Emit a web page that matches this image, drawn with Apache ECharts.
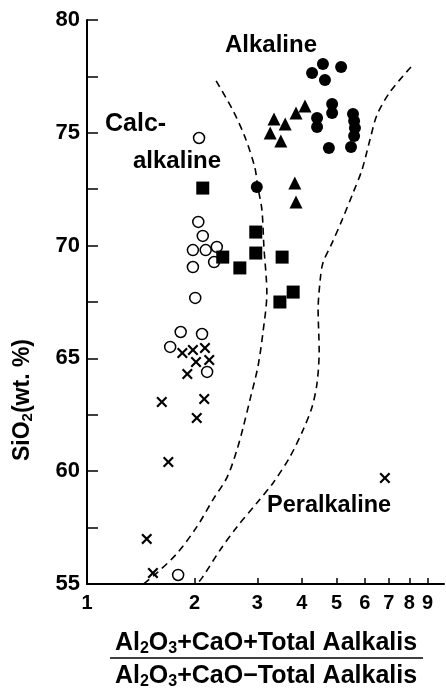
<!DOCTYPE html>
<html>
<head>
<meta charset="utf-8">
<script src="https://cdn.jsdelivr.net/npm/echarts@6/dist/echarts.min.js"></script>
<style>
  html, body { margin: 0; padding: 0; background: #fff; }
  #chart { width: 446px; height: 693px; }
</style>
</head>
<body>
<div id="chart"></div>
<script>
// Alumina-saturation index (log scale) vs SiO2 (wt. %)
const xLabelValues = [1, 2, 3, 4, 5, 6, 7, 8, 9];
const xTickValues = [2, 3, 4, 5, 6, 7, 8, 9];
const yTickValues = [55, 57.5, 60, 62.5, 65, 67.5, 70, 72.5, 75, 77.5, 80];

const openCircles = [
  [2.06, 74.77], [2.05, 71.05], [2.11, 70.43], [1.98, 69.80], [2.15, 69.80],
  [2.31, 69.94], [2.27, 69.27], [1.98, 69.05], [2.01, 67.68], [1.83, 66.17],
  [2.10, 66.08], [1.71, 65.51], [2.17, 64.40], [1.80, 55.40]
];
const crosses = [
  [1.85, 65.24], [1.98, 65.37], [2.14, 65.46], [2.02, 64.84], [2.20, 64.93],
  [1.91, 64.31], [1.62, 63.07], [2.13, 63.20], [2.03, 62.36], [1.69, 60.41],
  [1.47, 57.00], [1.53, 55.49], [6.83, 59.70]
];
const squares = [
  [2.11, 72.55], [2.97, 70.60], [2.97, 69.67], [2.40, 69.49], [2.68, 69.01],
  [3.52, 69.49], [3.78, 67.94], [3.47, 67.50]
];
const triangles = [
  [4.08, 76.19], [3.85, 75.88], [3.34, 75.61], [3.59, 75.39], [3.26, 74.99],
  [3.49, 74.64], [3.82, 72.77], [3.85, 71.93]
];
const filledCircles = [
  [4.58, 78.05], [5.15, 77.92], [4.27, 77.65], [4.64, 77.34], [4.86, 76.28],
  [4.86, 75.88], [4.41, 75.66], [4.41, 75.26], [5.56, 75.83], [5.60, 75.52],
  [5.63, 75.21], [5.60, 74.86], [5.49, 74.37], [4.76, 74.33], [2.99, 72.60]
];

// Field boundaries (dashed)
const calcAlkalineBoundary = [
  [2.30, 77.30], [2.56, 76.01], [2.77, 74.81], [2.95, 73.48], [3.01, 72.60],
  [3.09, 71.58], [3.13, 69.94], [3.19, 67.90], [3.11, 66.13], [3.01, 64.62],
  [2.86, 63.16], [2.74, 61.96], [2.63, 60.94], [2.47, 59.74], [2.25, 58.72],
  [2.03, 57.53], [1.79, 56.37], [1.57, 55.49], [1.44, 55.0]
];
const peralkalineBoundary = [
  [8.08, 77.92], [7.06, 76.81], [6.49, 75.79], [6.20, 74.68], [5.89, 73.35],
  [5.56, 72.33], [5.18, 71.13], [4.86, 70.12], [4.58, 69.23], [4.50, 68.48],
  [4.44, 67.15], [4.47, 65.37], [4.41, 63.91], [4.27, 62.85], [4.03, 61.83],
  [3.70, 60.63], [3.32, 59.48], [2.99, 58.59], [2.63, 57.53], [2.36, 56.51],
  [2.10, 55.27], [2.03, 55.0]
];

const FONT = '"Liberation Sans", Arial, sans-serif';
const INK = '#000';
const crossPath = 'path://M0,1.4L1.4,0L5,3.6L8.6,0L10,1.4L6.4,5L10,8.6L8.6,10L5,6.4L1.4,10L0,8.6L3.6,5Z';

function boundary(data) {
  return {
    type: 'line', data: data, symbol: 'none', smooth: 0.3, silent: true, z: 1,
    lineStyle: { color: INK, width: 1.6, type: [7, 5] }
  };
}
function markers(data, symbol, size, style) {
  return {
    type: 'scatter', data: data, symbol: symbol, symbolSize: size, z: 3,
    itemStyle: Object.assign({ color: INK, opacity: 1 }, style || {})
  };
}

const subStyle = (size, pad) => ({
  fontSize: size, fontWeight: 'bold', fontFamily: FONT, fill: INK, padding: [pad, 0, 0, 0]
});

const chart = echarts.init(document.getElementById('chart'), null, { renderer: 'canvas' });
chart.setOption({
  backgroundColor: '#fff',
  animation: false,
  grid: { left: 87, right: 2, top: 20, bottom: 109, containLabel: false, outerBoundsMode: 'none' },
  xAxis: {
    type: 'log', logBase: 10, min: 1, max: 10,
    axisLine: { show: true, lineStyle: { color: INK, width: 2 } },
    axisTick: { show: true, inside: true, length: 6, customValues: xTickValues, lineStyle: { color: INK, width: 1.5 } },
    minorTick: { show: false },
    splitLine: { show: false },
    axisLabel: {
      customValues: xLabelValues, color: INK, fontFamily: FONT, fontWeight: 'bold', fontSize: 20, margin: 9,
      formatter: v => String(Math.round(v))
    }
  },
  yAxis: {
    type: 'value', min: 55, max: 80, interval: 5,
    axisLine: { show: true, lineStyle: { color: INK, width: 2 } },
    axisTick: { show: true, inside: true, length: 11, customValues: yTickValues, lineStyle: { color: INK, width: 1.5 } },
    splitLine: { show: false },
    axisLabel: { color: INK, fontFamily: FONT, fontWeight: 'bold', fontSize: 22, margin: 7 }
  },
  series: [
    boundary(calcAlkalineBoundary),
    boundary(peralkalineBoundary),
    markers(openCircles, 'circle', 11, { color: 'rgba(0,0,0,0)', borderColor: INK, borderWidth: 1.5 }),
    markers(crosses, crossPath, 11),
    markers(squares, 'rect', 13),
    markers(triangles, 'triangle', 13),
    markers(filledCircles, 'circle', 12)
  ],
  graphic: [
    {
      type: 'text', x: 23, y: 400, rotation: Math.PI / 2,
      style: {
        text: 'SiO{s|2}(wt. %)', fontFamily: FONT, fontWeight: 'bold', fontSize: 23, fill: INK,
        align: 'center', verticalAlign: 'middle', rich: { s: subStyle(15, 10) }
      }
    },
    { type: 'text', x: 271, y: 45.5, style: { text: 'Alkaline', fontFamily: FONT, fontWeight: 'bold', fontSize: 24, fill: INK, align: 'center', verticalAlign: 'middle' } },
    { type: 'text', x: 105, y: 124, style: { text: 'Calc-', fontFamily: FONT, fontWeight: 'bold', fontSize: 25, fill: INK, align: 'left', verticalAlign: 'middle' } },
    { type: 'text', x: 133, y: 161, style: { text: 'alkaline', fontFamily: FONT, fontWeight: 'bold', fontSize: 24, fill: INK, align: 'left', verticalAlign: 'middle' } },
    { type: 'text', x: 267, y: 505.5, style: { text: 'Peralkaline', fontFamily: FONT, fontWeight: 'bold', fontSize: 23.5, fill: INK, align: 'left', verticalAlign: 'middle' } },
    {
      type: 'text', x: 266, y: 643.5,
      style: {
        text: 'Al{s|2}O{s|3}+CaO+Total Aalkalis', fontFamily: FONT, fontWeight: 'bold', fontSize: 25, fill: INK,
        align: 'center', verticalAlign: 'middle', rich: { s: subStyle(16, 10) }
      }
    },
    { type: 'line', shape: { x1: 110, y1: 658, x2: 423, y2: 658 }, style: { stroke: INK, lineWidth: 1.5 } },
    {
      type: 'text', x: 266, y: 676.5,
      style: {
        text: 'Al{s|2}O{s|3}+CaO\u2212Total Aalkalis', fontFamily: FONT, fontWeight: 'bold', fontSize: 25, fill: INK,
        align: 'center', verticalAlign: 'middle', rich: { s: subStyle(16, 10) }
      }
    }
  ]
});
</script>
</body>
</html>
